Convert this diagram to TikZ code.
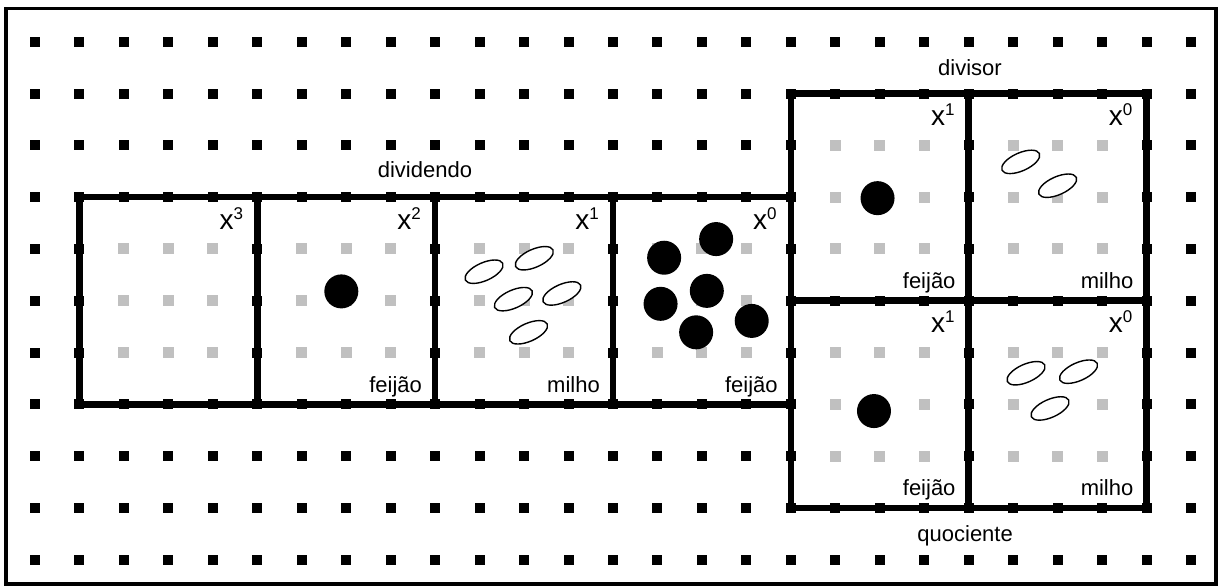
\documentclass[tikz,border=0pt]{standalone}
\usepackage{fontspec}
\setmainfont{Liberation Sans}
\usepackage{tikz}
\definecolor{divGray}{HTML}{C0C0C0}
\tikzset{
  divLine/.style={line width=6.5pt},
  divFrame/.style={line width=3.5pt},
  divMilho/.style={draw=black, fill=white, line width=1.4pt},
  divText/.style={inner sep=0pt, font=\fontsize{22}{24}\selectfont},
  divExpo/.style={inner sep=0pt, anchor=base east, font=\fontsize{28}{30}\selectfont},
  divTipo/.style={inner sep=0pt, anchor=base east, font=\fontsize{22}{24}\selectfont}
}
\newcommand{\potx}[1]{x\raisebox{10pt}{\fontsize{17}{17}\selectfont #1}}

\begin{document}
\begin{tikzpicture}[x=44.46pt, y=-51.8pt]
  \useasboundingbox (-0.787,-0.805) rectangle (26.72,10.49);
  \draw[divFrame] (-0.652,-0.645) rectangle (26.56,10.47);
  \foreach \c in {0,...,26}
    \foreach \r in {0,...,10}
      \fill (\c,\r) ++(-5pt,-5pt) rectangle ++(10pt,10pt);
  \foreach \c/\r in {1/3,5/3,9/3,13/3,17/1,21/1,17/5,21/5} {
    \fill[white] (\c,\r) rectangle ++(4,4);
    \foreach \i in {1,2,3}
      \foreach \j in {1,2,3}
        \fill[divGray] (\c+\i,\r+\j) ++(-5.5pt,-5.5pt) rectangle ++(11pt,11pt);
  }
  \foreach \c/\r in {1/3,5/3,9/3,13/3,17/1,21/1,17/5,21/5}
    \draw[divLine] (\c,\r) rectangle ++(4,4);
  \foreach \c/\r in {1/3,5/3,9/3,13/3,17/1,21/1,17/5,21/5}
    \foreach \i in {0,...,4} {
      \fill (\c+\i,\r) ++(-5pt,-5pt) rectangle ++(10pt,10pt);
      \fill (\c+\i,\r+4) ++(-5pt,-5pt) rectangle ++(10pt,10pt);
      \fill (\c,\r+\i) ++(-5pt,-5pt) rectangle ++(10pt,10pt);
      \fill (\c+4,\r+\i) ++(-5pt,-5pt) rectangle ++(10pt,10pt);
    }
  % feijao
  \foreach \x/\y in {6.89/4.82, 14.15/4.17, 15.32/3.81, 14.07/5.06, 15.11/4.81,
                     14.87/5.61, 16.12/5.39, 18.95/3.02, 18.87/7.13}
    \fill (\x,\y) circle[radius=17pt];
  % milho
  \foreach \x/\y in {10.10/4.44, 11.23/4.18, 10.76/4.97, 11.85/4.86, 11.10/5.61,
                     22.17/2.32, 23.00/2.78, 22.29/6.40, 23.47/6.37, 22.83/7.08}
    \draw[divMilho, rotate around={24:(\x,\y)}] (\x,\y) ellipse[x radius=20.5pt, y radius=9pt];
  \foreach \c/\r/\e in {1/3/3, 5/3/2, 9/3/1, 13/3/0, 17/1/1, 21/1/0, 17/5/1, 21/5/0}
    \node[divExpo] (expo-\c-\r) at ([xshift=-14pt, yshift=-32pt]\c+4,\r) {\potx{\e}};
  \foreach \c/\r/\t in {5/3/feijão, 9/3/milho, 13/3/feijão, 17/1/feijão, 21/1/milho, 17/5/feijão, 21/5/milho}
    \node[divTipo] (tipo-\c-\r) at ([xshift=-13pt, yshift=12pt]\c+4,\r+4) {\t};
  \node[divText, anchor=base] (dividendo) at (8.77,2.63) {dividendo};
  \node[divText, anchor=base] (divisor) at (21.03,0.66) {divisor};
  \node[divText, anchor=base] (quociente) at (20.92,9.65) {quociente};
\end{tikzpicture}
\end{document}
